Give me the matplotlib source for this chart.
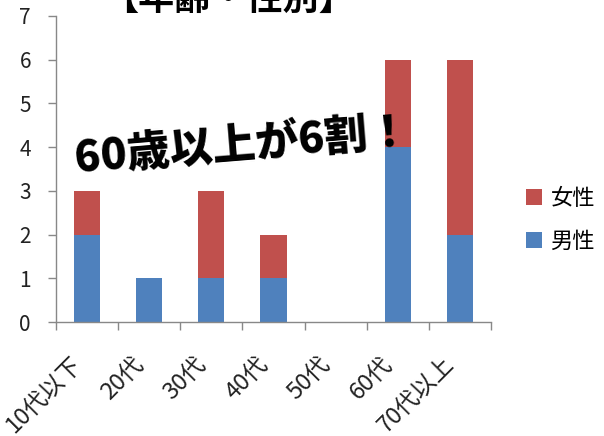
import matplotlib
matplotlib.use("Agg")
from matplotlib import pyplot as plt
from matplotlib.transforms import ScaledTranslation
import numpy as np

plt.rcParams['font.family'] = ['Noto Sans CJK JP', 'DejaVu Sans']

categories = ["10代以下", "20代", "30代", "40代", "50代", "60代", "70代以上"]
male = [2, 1, 1, 1, 0, 4, 2]
female = [1, 0, 2, 1, 0, 2, 4]

BLUE = "#4F81BD"
RED = "#C0504D"

fig = plt.figure(figsize=(6.04, 4.36), dpi=100)
ax = fig.add_axes([56 / 604, 1 - 322 / 436, (491 - 56) / 604, (322 - 16) / 436])

x = np.arange(len(categories))
ax.bar(x, male, width=0.42, color=BLUE, linewidth=0, label="男性")
ax.bar(x, female, width=0.42, bottom=male, color=RED, linewidth=0, label="女性")

ax.set_xlim(-0.5, len(categories) - 0.5)
ax.set_ylim(0, 7)
ax.set_yticks(range(8))
ax.tick_params(axis='y', labelsize=15, length=6, width=1, color="#888888", pad=12, labelcolor="#222222")

# category labels sit between boundary ticks
ax.set_xticks(np.arange(len(categories) + 1) - 0.5)
ax.set_xticklabels([])
ax.set_xticks(x, minor=True)
ax.set_xticklabels(categories, minor=True, rotation=45, ha="right", va="center",
                   rotation_mode="anchor", fontsize=17, color="#222222")
ax.tick_params(axis='x', which='major', length=6, width=1, color="#888888")
ax.tick_params(axis='x', which='minor', length=0, pad=20)
shift = ScaledTranslation(-9 / 100, -11 / 100, fig.dpi_scale_trans)
for lab in ax.get_xticklabels(minor=True):
    lab.set_transform(lab.get_transform() + shift)

for s in ["top", "right"]:
    ax.spines[s].set_visible(False)
for s in ["left", "bottom"]:
    ax.spines[s].set_color("#888888")
    ax.spines[s].set_linewidth(1)

handles, labels = ax.get_legend_handles_labels()
fig.legend(handles[::-1], labels[::-1], loc="center left", bbox_to_anchor=(506 / 604, 1 - 220 / 436),
           frameon=False, fontsize=16, handlelength=0.7, handleheight=0.7, labelspacing=0.9,
           handletextpad=0.4)

fig.text(229 / 604, 1 + 1 / 436, "【年齢・性別】", fontsize=26, ha="center", va="center",
         fontweight="bold")

ax.text(2.5, 4.05, "60歳以上が6割！", fontsize=31, fontweight="black", rotation=4.7,
        ha="center", va="center", rotation_mode="anchor")

fig.savefig("out.png", dpi=100)
